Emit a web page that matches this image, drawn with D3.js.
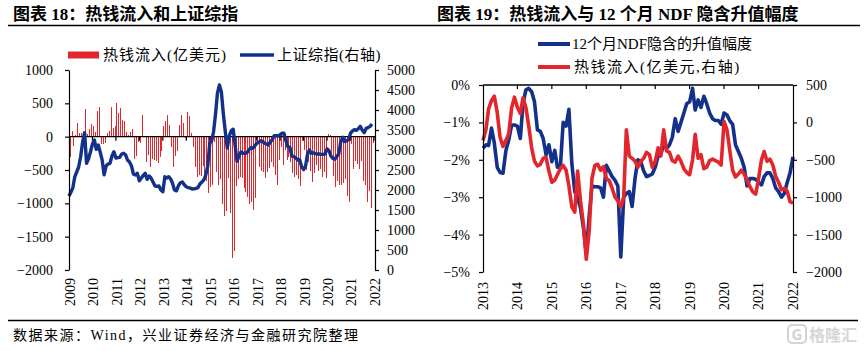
<!DOCTYPE html>
<html><head><meta charset="utf-8">
<script src="https://cdn.jsdelivr.net/npm/d3@7"></script>
<style>
body{margin:0;background:#fff;}
svg text{font-family:"Liberation Serif","Noto Sans CJK SC",serif;fill:#000;}
</style></head><body>
<svg id="c" width="865" height="351"></svg>
<script>
// ---------- DATA ----------
// Left chart: monthly, 2009-01 .. 2021-12
const leftYears = [2009,2010,2011,2012,2013,2014,2015,2016,2017,2018,2019,2020,2021,2022];
const hotMoneyMonthly = [
 -310,80,-135,30,210,60,60,60,420,40,115,195,
 160,75,390,445,-110,-110,-95,60,90,450,130,165,
 510,360,435,255,240,65,30,75,120,-335,-285,-75,
 -100,330,-10,-385,-280,-450,-340,-350,-370,-390,-310,-210,
 160,240,330,180,-150,-450,-285,-220,180,330,205,-20,
 375,315,55,-150,-460,-610,-570,-595,-435,-585,-660,-850,
 -750,-720,-85,-535,-720,-635,-1005,-1195,-1115,-625,-1150,-1825,
 -1710,-735,-635,-600,-620,-770,-835,-900,-1005,-985,-1095,-925,
 -100,-450,-510,-535,-620,-535,-470,-385,-460,-570,-720,-350,
 -160,-420,-200,-350,-310,-385,-550,-610,-570,-635,-735,-60,
 -200,-500,-385,-510,-685,-550,-420,-510,-480,-600,-535,-620,
 40,30,-300,-585,-760,-670,-720,-720,-700,-635,-885,-985,
 -110,-485,-360,-410,-485,-360,-670,-720,-985,-820,-1070,-100
];
const shIndex = [
 1850,1950,2050,2330,2450,2580,2830,3200,3430,2670,2780,2950,
 3150,3250,3017,3125,2950,2750,2380,2600,2650,2667,2850,2958,
 2800,2810,2817,2900,2917,2880,2750,2700,2600,2400,2375,2417,
 2230,2300,2360,2417,2267,2350,2300,2200,2100,2090,2100,2000,
 1958,2330,2300,2333,2280,2170,2000,1980,2110,2180,2200,2130,
 2080,2058,2050,2025,2030,2040,2060,2150,2200,2250,2380,2600,
 3170,3240,3450,3900,4420,4625,4450,3900,3450,3050,3350,3480,
 3520,3100,2720,2850,2950,2920,2917,2930,3000,3060,3042,3100,
 3167,3190,3230,3220,3170,3150,3125,3200,3260,3360,3360,3350,
 3380,3420,3420,3230,3083,3070,2850,2840,2800,2750,2760,2580,
 2510,2600,2880,3000,2920,2930,2910,2900,2900,2890,2890,2900,
 3030,2980,2850,2790,2770,2840,2900,3200,3320,3210,3230,3260,
 3420,3480,3510,3490,3530,3590,3500,3433,3540,3560,3590,3650
];
const leftTicksL = [-2000,-1500,-1000,-500,0,500,1000];
const leftTicksR = [0,500,1000,1500,2000,2500,3000,3500,4000,4500,5000];

// Right chart: monthly, 2013-01 .. 2022-01
const rightYears = [2013,2014,2015,2016,2017,2018,2019,2020,2021,2022];
const ndfAppreciation = [
 -1.69,-1.6,-1.62,-1.15,-1.55,-2.2,-2.34,-2.36,-1.75,-1.47,-1.07,-1.07,
 -1.1,-1.43,-0.49,-0.13,-0.09,-0.18,-0.45,-1.2,-1.24,-1.43,-1.87,-1.6,
 -2.05,-1.75,-2.2,-2.2,-1.0,-1.1,-0.65,-2.1,-2.85,-3.0,-3.3,-3.8,
 -4.5,-3.5,-2.7,-2.72,-2.72,-2.75,-3.0,-2.15,-2.3,-2.45,-2.55,-2.7,
 -4.6,-3.0,-2.9,-2.85,-3.25,-2.5,-2.0,-2.05,-2.3,-2.45,-2.42,-2.38,
 -2.2,-1.9,-1.85,-1.6,-1.7,-1.6,-1.4,-0.9,-1.24,-1.0,-0.75,-0.5,
 -0.45,-0.09,-0.67,-0.4,-0.6,-0.3,-0.5,-0.75,-0.9,-0.95,-0.95,-1.05,
 -0.75,-0.8,-0.95,-1.05,-1.6,-1.78,-1.95,-2.2,-2.7,-2.5,-2.5,-2.52,
 -2.6,-2.67,-2.45,-2.35,-2.35,-2.5,-2.75,-2.85,-3.0,-2.9,-2.6,-2.35,-1.92
];
const hotMoneySmoothed = [
 -241,-100,180,290,350,130,-200,-320,-240,-150,200,338,
 200,120,330,200,-50,-340,-520,-580,-560,-480,-470,-650,
 -800,-770,-700,-620,-575,-640,-850,-1130,-1200,-650,-1050,-1350,
 -1830,-1450,-750,-575,-560,-640,-590,-750,-780,-880,-1000,-1050,
 -1130,-1000,-100,-450,-480,-520,-600,-520,-480,-400,-430,-600,
 -520,-340,-450,-100,-380,-400,-510,-530,-450,-520,-620,-670,
 -700,-500,-160,-480,-430,-620,-600,-510,-490,-510,-530,-570,
 10,-100,-370,-640,-730,-690,-640,-690,-770,-860,-930,-960,
 -750,-500,-390,-520,-490,-570,-720,-800,-900,-880,-920,-1060,-1080
];
const pctTicks = [0,-1,-2,-3,-4,-5];
const flowTicks = [500,0,-500,-1000,-1500,-2000];

// ---------- STYLE ----------
const RED = "#e2262b", BLUE = "#13308a";
const svg = d3.select("#c");
const FS = 14;

function styleAxis(g){
  g.selectAll("text").style("font-size", FS+"px").style("font-family",'"Liberation Serif",serif');
  g.selectAll("path,line").attr("stroke","#000").attr("stroke-width",1.2);
}

// ---------- FRAME ----------
svg.append("line").attr("x1",8).attr("x2",860).attr("y1",25.5).attr("y2",25.5).attr("stroke","#000").attr("stroke-width",1.4);
svg.append("line").attr("x1",8).attr("x2",858).attr("y1",320.5).attr("y2",320.5).attr("stroke","#000").attr("stroke-width",1.4);
svg.append("text").attr("x",13).attr("y",20).style("font-size","17px").style("font-weight","bold").text("图表 18：热钱流入和上证综指");
svg.append("text").attr("x",437).attr("y",20).style("font-size","17px").style("font-weight","bold").text("图表 19：热钱流入与 12 个月 NDF 隐含升值幅度");
svg.append("text").attr("x",13).attr("y",340).style("font-size","14px").style("letter-spacing","1.5px").text("数据来源：Wind，兴业证券经济与金融研究院整理");
// watermark
const wm = svg.append("g").attr("opacity",0.9);
wm.append("rect").attr("x",788).attr("y",325).attr("width",18).attr("height",18).attr("rx",4).attr("fill","none").attr("stroke","#cfcfcf").attr("stroke-width",2);
wm.append("text").attr("x",797).attr("y",340).attr("text-anchor","middle").style("font-size","15px").style("font-weight","bold").style("fill","#cfcfcf").style("font-family","Noto Sans CJK SC").text("G");
wm.append("text").attr("x",809).attr("y",341).style("font-size","16px").style("font-weight","bold").style("fill","#d2d2d2").style("font-family","Noto Sans CJK SC").text("格隆汇");

// ---------- LEFT CHART ----------
const xL = d3.scaleTime().domain([new Date(2009,0,1), new Date(2022,0,1)]).range([69,374]);
const yL = d3.scaleLinear().domain([-2000,1000]).range([270,70]);
const yR = d3.scaleLinear().domain([0,5000]).range([270,70]);
const mL = i => new Date(2009, i, 1);

svg.append("g").attr("shape-rendering","crispEdges").selectAll("rect").data(hotMoneyMonthly).join("rect")
  .attr("x",(d,i)=>Math.round(xL(mL(i))+0.6)).attr("width",1)
  .attr("y",d=>Math.min(yL(d),yL(0))).attr("height",d=>Math.abs(yL(d)-yL(0)))
  .attr("fill",RED);

// zero line with year ticks
svg.append("line").attr("x1",69).attr("x2",375).attr("y1",yL(0)).attr("y2",yL(0)).attr("stroke","#000").attr("stroke-width",1.3);
svg.append("g").selectAll("line").data(leftYears.slice(1)).join("line")
  .attr("x1",d=>xL(new Date(d,0,1))).attr("x2",d=>xL(new Date(d,0,1)))
  .attr("y1",yL(0)).attr("y2",yL(0)+4).attr("stroke","#000").attr("stroke-width",1.2);

svg.append("path").datum(shIndex)
  .attr("d", d3.line().x((d,i)=>xL(mL(i))).y(d=>yR(d)))
  .attr("fill","none").attr("stroke",BLUE).attr("stroke-width",3.4).attr("stroke-linejoin","round");

const gL = svg.append("g").attr("transform","translate(69,0)")
  .call(d3.axisLeft(yL).tickValues(leftTicksL).tickSize(4).tickSizeOuter(0).tickPadding(12).tickFormat(d3.format("d")));
styleAxis(gL);
const gR = svg.append("g").attr("transform","translate(375,0)")
  .call(d3.axisRight(yR).tickValues(leftTicksR).tickSize(4).tickSizeOuter(0).tickPadding(8).tickFormat(d3.format("d")));
styleAxis(gR);

svg.append("g").selectAll("text").data(leftYears).join("text")
  .attr("transform",d=>`translate(${xL(new Date(d,0,1))+1},278) rotate(-90)`)
  .attr("text-anchor","end").attr("dy","0.35em").style("font-size",FS+"px").text(d=>d);

// left legend
svg.append("rect").attr("x",68).attr("y",51.5).attr("width",31).attr("height",7).attr("fill",RED);
svg.append("text").attr("x",103).attr("y",60).style("font-size","15px").style("letter-spacing","1px").text("热钱流入(亿美元)");
svg.append("line").attr("x1",240).attr("x2",274).attr("y1",55).attr("y2",55).attr("stroke",BLUE).attr("stroke-width",3.5);
svg.append("text").attr("x",277).attr("y",60).style("font-size","15px").style("letter-spacing","0.5px").text("上证综指(右轴)");

// ---------- RIGHT CHART ----------
const xR = d3.scaleTime().domain([new Date(2013,0,1), new Date(2022,0,1)]).range([483,793]);
const yP = d3.scaleLinear().domain([-5,0]).range([272,85]);
const yF = d3.scaleLinear().domain([-2000,500]).range([272,85]);
const mR = i => new Date(2013, i, 1);

svg.append("line").attr("x1",483).attr("x2",793).attr("y1",85).attr("y2",85).attr("stroke","#000").attr("stroke-width",1.3);
svg.append("g").selectAll("line").data(rightYears.slice(1,-1)).join("line")
  .attr("x1",d=>xR(new Date(d,0,1))).attr("x2",d=>xR(new Date(d,0,1)))
  .attr("y1",85).attr("y2",89).attr("stroke","#000").attr("stroke-width",1.2);

svg.append("path").datum(ndfAppreciation)
  .attr("d", d3.line().x((d,i)=>xR(mR(i))).y(d=>yP(d)))
  .attr("fill","none").attr("stroke",BLUE).attr("stroke-width",3.6).attr("stroke-linejoin","round");
svg.append("path").datum(hotMoneySmoothed)
  .attr("d", d3.line().x((d,i)=>xR(mR(i))).y(d=>yF(d)))
  .attr("fill","none").attr("stroke",RED).attr("stroke-width",3.6).attr("stroke-linejoin","round");

const gPL = svg.append("g").attr("transform","translate(483,0)")
  .call(d3.axisLeft(yP).tickValues(pctTicks).tickSize(4).tickSizeOuter(0).tickPadding(9).tickFormat(d=>d3.format("d")(d)+"%"));
styleAxis(gPL);
const gPR = svg.append("g").attr("transform","translate(793,0)")
  .call(d3.axisRight(yF).tickValues(flowTicks).tickSize(4).tickSizeOuter(0).tickPadding(9).tickFormat(d3.format("d")));
styleAxis(gPR);

svg.append("g").selectAll("text").data(rightYears).join("text")
  .attr("transform",d=>`translate(${xR(new Date(d,0,1))},282) rotate(-90)`)
  .attr("text-anchor","end").attr("dy","0.35em").style("font-size",FS+"px").text(d=>d);

// right legend
svg.append("line").attr("x1",538).attr("x2",570).attr("y1",44).attr("y2",44).attr("stroke",BLUE).attr("stroke-width",4);
svg.append("text").attr("x",572).attr("y",49).style("font-size","15px").text("12个月NDF隐含的升值幅度");
svg.append("line").attr("x1",538).attr("x2",570).attr("y1",67).attr("y2",67).attr("stroke",RED).attr("stroke-width",4);
svg.append("text").attr("x",574).attr("y",72).style("font-size","15px").style("letter-spacing","1.5px").text("热钱流入(亿美元,右轴)");
</script></body></html>
